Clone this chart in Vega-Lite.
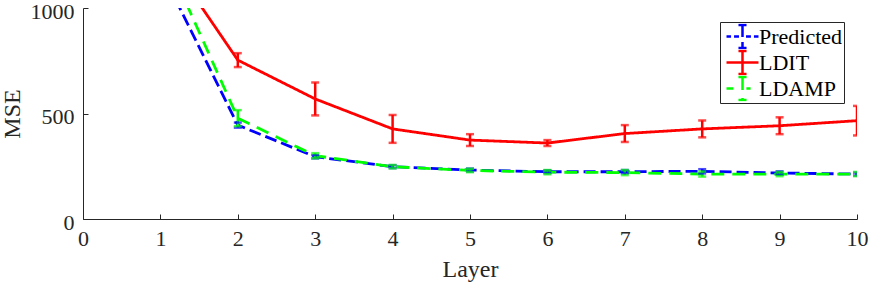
{
  "$schema": "https://vega.github.io/schema/vega-lite/v6.json",
  "width": 774,
  "height": 211,
  "autosize": {"type": "none"},
  "padding": {"left": 83, "top": 8, "right": 13, "bottom": 67},
  "background": "white",
  "config": {
    "view": {"stroke": null},
    "font": "Liberation Serif",
    "axis": {
      "grid": false,
      "domainColor": "#262626",
      "tickColor": "#262626",
      "labelColor": "#262626",
      "titleColor": "#262626",
      "labelFont": "Liberation Serif",
      "titleFont": "Liberation Serif",
      "labelFontSize": 22,
      "titleFontSize": 24,
      "titleFontWeight": "normal",
      "tickSize": -5,
      "domainWidth": 1,
      "tickWidth": 1
    },
    "legend": {
      "labelFont": "Liberation Serif",
      "labelFontSize": 22,
      "labelColor": "#000000"
    }
  },
  "data": {
    "values": [
      {"series": "Predicted", "layer": 1, "mse": 1185, "lo": 1180, "hi": 1190},
      {"series": "Predicted", "layer": 2, "mse": 445, "lo": 433, "hi": 457},
      {"series": "Predicted", "layer": 3, "mse": 295, "lo": 287, "hi": 303},
      {"series": "Predicted", "layer": 4, "mse": 248, "lo": 241, "hi": 255},
      {"series": "Predicted", "layer": 5, "mse": 232, "lo": 225, "hi": 239},
      {"series": "Predicted", "layer": 6, "mse": 224, "lo": 217, "hi": 231},
      {"series": "Predicted", "layer": 7, "mse": 224, "lo": 216, "hi": 232},
      {"series": "Predicted", "layer": 8, "mse": 226, "lo": 216, "hi": 236},
      {"series": "Predicted", "layer": 9, "mse": 218, "lo": 210, "hi": 226},
      {"series": "Predicted", "layer": 10, "mse": 213, "lo": 206, "hi": 220},
      {"series": "LDIT", "layer": 1, "mse": 1290, "lo": 1250, "hi": 1330},
      {"series": "LDIT", "layer": 2, "mse": 753, "lo": 720, "hi": 786},
      {"series": "LDIT", "layer": 3, "mse": 569, "lo": 491, "hi": 647},
      {"series": "LDIT", "layer": 4, "mse": 427, "lo": 361, "hi": 493},
      {"series": "LDIT", "layer": 5, "mse": 374, "lo": 346, "hi": 402},
      {"series": "LDIT", "layer": 6, "mse": 360, "lo": 346, "hi": 374},
      {"series": "LDIT", "layer": 7, "mse": 405, "lo": 365, "hi": 445},
      {"series": "LDIT", "layer": 8, "mse": 427, "lo": 387, "hi": 467},
      {"series": "LDIT", "layer": 9, "mse": 442, "lo": 402, "hi": 482},
      {"series": "LDIT", "layer": 10, "mse": 466, "lo": 396, "hi": 536},
      {"series": "LDAMP", "layer": 1, "mse": 1295, "lo": 1260, "hi": 1330},
      {"series": "LDAMP", "layer": 2, "mse": 478, "lo": 440, "hi": 516},
      {"series": "LDAMP", "layer": 3, "mse": 300, "lo": 288, "hi": 312},
      {"series": "LDAMP", "layer": 4, "mse": 248, "lo": 240, "hi": 256},
      {"series": "LDAMP", "layer": 5, "mse": 230, "lo": 222, "hi": 238},
      {"series": "LDAMP", "layer": 6, "mse": 222, "lo": 212, "hi": 232},
      {"series": "LDAMP", "layer": 7, "mse": 220, "lo": 208, "hi": 232},
      {"series": "LDAMP", "layer": 8, "mse": 213, "lo": 201, "hi": 225},
      {"series": "LDAMP", "layer": 9, "mse": 213, "lo": 203, "hi": 223},
      {"series": "LDAMP", "layer": 10, "mse": 213, "lo": 203, "hi": 223}
    ]
  },
  "encoding": {
    "x": {
      "field": "layer", "type": "quantitative",
      "scale": {"domain": [0, 10], "nice": false, "zero": false},
      "axis": {"title": "Layer", "values": [0,1,2,3,4,5,6,7,8,9,10], "format": "d", "labelPadding": 14, "titlePadding": 8, "labelFlush": false, "labelFont": "Liberation Serif", "titleFont": "Liberation Serif"}
    },
    "y": {
      "field": "mse", "type": "quantitative",
      "scale": {"domain": [0, 1000], "nice": false},
      "axis": {"title": "MSE", "values": [0, 500, 1000], "format": "d", "labelPadding": 14, "labelOffset": 3, "titlePadding": 6, "labelFlush": false, "labelFont": "Liberation Serif", "titleFont": "Liberation Serif"}
    },
    "color": {
      "field": "series", "type": "nominal",
      "scale": {"domain": ["Predicted", "LDIT", "LDAMP"], "range": ["#0000ff", "#ff0000", "#00ff00"]},
      "legend": null
    }
  },
  "layer": [
    {
      "mark": {"type": "line", "strokeWidth": 2.8, "clip": true},
      "encoding": {
        "strokeDash": {
          "field": "series", "type": "nominal",
          "scale": {"domain": ["Predicted", "LDIT", "LDAMP"], "range": [[12, 5], [1, 0], [13, 8]]},
          "legend": null
        },
        "color": {
          "field": "series", "type": "nominal",
          "scale": {"domain": ["Predicted", "LDIT", "LDAMP"], "range": ["#0000ff", "#ff0000", "#00ff00"]},
          "legend": {
            "title": null,
            "orient": "none",
            "legendX": 637,
            "legendY": 14,
            "strokeColor": "#262626",
            "fillColor": "#ffffff",
            "padding": 1.5,
            "rowPadding": 0,
            "clipHeight": 26,
            "symbolSize": 676,
            "symbolStrokeWidth": 2.5,
            "symbolOffset": 6.5,
            "labelOffset": 2,
            "labelFont": "Liberation Serif",
            "labelFontSize": 22,
            "symbolType": "M-1.23,0H1.23",
            "encode": {
              "symbols": {
                "update": {
                  "shape": [
                    {"test": "datum.value === 'Predicted'", "value": "M-1.23,0H-0.88M-0.65,0H-0.27M0,-0.88V0.88M-0.31,-0.88H0.31M-0.31,0.88H0.31M0.27,0H0.65M0.88,0H1.23"},
                    {"test": "datum.value === 'LDIT'", "value": "M-1.23,0H1.23M0,-0.88V0.88M-0.31,-0.88H0.31M-0.31,0.88H0.31"},
                    {"value": "M-1.23,0H-0.7M0,-0.88V0.88M-0.31,-0.88H0.31M-0.31,0.88H0.31M0.3,0H0.62"}
                  ],
                  "strokeDash": {"value": [1, 0]},
                  "fill": {"value": "transparent"},
                  "strokeWidth": {"value": 2.5}
                }
              },
              "labels": {
                "update": {
                  "font": {"value": "Liberation Serif"},
                  "fontSize": {"value": 22}
                }
              }
            }
          }
        }
      }
    },
    {
      "mark": {"type": "rule", "strokeWidth": 2.5, "clip": true},
      "encoding": {
        "y": {"field": "lo", "type": "quantitative"},
        "y2": {"field": "hi"}
      }
    },
    {
      "mark": {"type": "tick", "orient": "horizontal", "size": 8, "thickness": 2.5, "clip": true},
      "encoding": {
        "y": {"field": "lo", "type": "quantitative"}
      }
    },
    {
      "mark": {"type": "tick", "orient": "horizontal", "size": 8, "thickness": 2.5, "clip": true},
      "encoding": {
        "y": {"field": "hi", "type": "quantitative"}
      }
    }
  ]
}
